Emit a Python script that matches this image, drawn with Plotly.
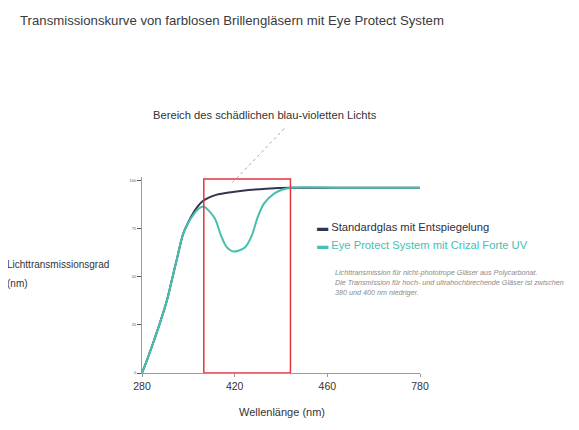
import plotly.graph_objects as go

# Axis positions (evenly spaced ticks, schematic wavelength axis)
tick_pos = [0, 1, 2, 3]
tick_labels = ["280", "420", "460", "780"]
y_ticks = [0, 25, 50, 75, 100]

# Standard lens curve (axis position, transmission %)
std_x = [0, 0.06, 0.12, 0.20, 0.27, 0.33, 0.375, 0.445, 0.50, 0.55, 0.60, 0.65, 0.72, 0.80, 0.98, 1.15, 1.34, 1.61, 2.2, 3.0]
std_y = [0, 7.5, 15.6, 27, 38, 50, 59, 72.5, 78.5, 83, 86.6, 89.3, 91.3, 92.7, 94.2, 95.2, 95.9, 96.4, 96.4, 96.4]

# Eye Protect System curve
eps_x = [0, 0.06, 0.12, 0.20, 0.27, 0.33, 0.375, 0.445, 0.50, 0.55, 0.60, 0.665, 0.72, 0.785, 0.857, 0.91, 0.95, 0.99, 1.04, 1.11, 1.18, 1.25, 1.32, 1.43, 1.52, 1.61, 2.2, 3.0]
eps_y = [0, 7.5, 15.6, 27, 38, 50, 59, 72.5, 78.2, 82, 85, 86.6, 84.5, 80.5, 71, 65.8, 64, 63.2, 63.6, 65.3, 71, 81.3, 88.4, 93.5, 95.5, 96.4, 96.4, 96.4]

# Highlighted harmful blue-violet region (axis positions)
region_start = 0.667
region_end = 1.602
region_top = 101

NAVY = "#35344f"
TEAL = "#45c0ae"
RED = "#e4343f"
TEXT = "#333333"
AXIS = "#9a9a9a"

# page layout (the page body adds an 8px offset)
W, H = 571, 422
ML, MR, MT, MB = 134, 159, 169, 57
OFF = 8

fig = go.Figure()
fig.add_trace(go.Scatter(x=std_x, y=std_y, mode="lines", name="Standardglas mit Entspiegelung",
                         line=dict(color=NAVY, width=2, shape="spline", smoothing=1.0)))
fig.add_trace(go.Scatter(x=eps_x, y=eps_y, mode="lines", name="Eye Protect System mit Crizal Forte UV",
                         line=dict(color=TEAL, width=2, shape="spline", smoothing=1.0)))

# red region box
fig.add_shape(type="rect", xref="x", yref="y", x0=region_start, x1=region_end, y0=0, y1=region_top,
              line=dict(color=RED, width=1.5), fillcolor="rgba(0,0,0,0)", layer="above")

# dashed pointer to region label
fig.add_shape(type="line", xref="x", yref="paper", x0=0.975, y0=0.971, x1=1.556, y1=1.257,
              line=dict(color="#aaaaaa", width=1, dash="dot"))

fig.update_layout(
    width=W, height=H,
    margin=dict(l=ML, r=MR, t=MT, b=MB),
    paper_bgcolor="white", plot_bgcolor="white",
    showlegend=False,
    font=dict(family="Liberation Sans, Arial, sans-serif", color=TEXT),
    xaxis=dict(range=[0, 3.0], tickvals=tick_pos, ticktext=tick_labels, showgrid=False, zeroline=False,
               showline=True, linecolor=AXIS, linewidth=1, ticks="outside", ticklen=3, tickcolor=AXIS,
               tickfont=dict(size=10.5, color=TEXT)),
    yaxis=dict(range=[0, 102], tickvals=y_ticks, showgrid=False, zeroline=False,
               showline=True, linecolor=AXIS, linewidth=1, ticks="outside", ticklen=4, tickcolor="#555555",
               tickfont=dict(size=4, color="#555555")),
)

anns = [
    dict(text="Transmissionskurve von farblosen Brillengläsern mit Eye Protect System",
         x=18, y=20, font=dict(size=13.2, color="#3a3a3a")),
    dict(text="Bereich des schädlichen blau-violetten Lichts", x=151, y=115, font=dict(size=11.2, color=TEXT)),
    dict(text="Lichttransmissionsgrad", x=5, y=264, font=dict(size=10, color=TEXT)),
    dict(text="(nm)", x=5, y=283, font=dict(size=10, color=TEXT)),
    dict(text="Wellenlänge (nm)", x=237, y=412, font=dict(size=11, color=TEXT)),
    dict(text="<span style='color:%s'>▬</span> Standardglas mit Entspiegelung" % NAVY,
         x=315, y=227, font=dict(size=11.2, color="#2e2d40")),
    dict(text="<span style='color:%s'>▬</span> Eye Protect System mit Crizal Forte UV" % TEAL,
         x=315, y=245, font=dict(size=11.2, color=TEAL)),
    dict(text="<i>Lichttransmission für nicht-phototrope Gläser aus Polycarbonat.</i>",
         x=333, y=272, font=dict(size=7.2, color="#8a8a8a")),
    dict(text="<i>Die Transmission für hoch- und ultrahochbrechende Gläser ist zwischen</i>",
         x=333, y=282, font=dict(size=7.2, color="#8a8a8a")),
    dict(text="<i>380 und 400 nm niedriger.</i>",
         x=333, y=292, font=dict(size=7.2, color="#8a8a8a")),
]
pw = W - ML - MR
ph = H - MT - MB
for a in anns:
    fig.add_annotation(text=a["text"], xref="paper", yref="paper",
                       x=(a["x"] - OFF - ML) / pw,
                       y=(H - MB - (a["y"] - OFF)) / ph,
                       xanchor="left", yanchor="middle", showarrow=False, font=a["font"])

fig.write_html("out.html")
